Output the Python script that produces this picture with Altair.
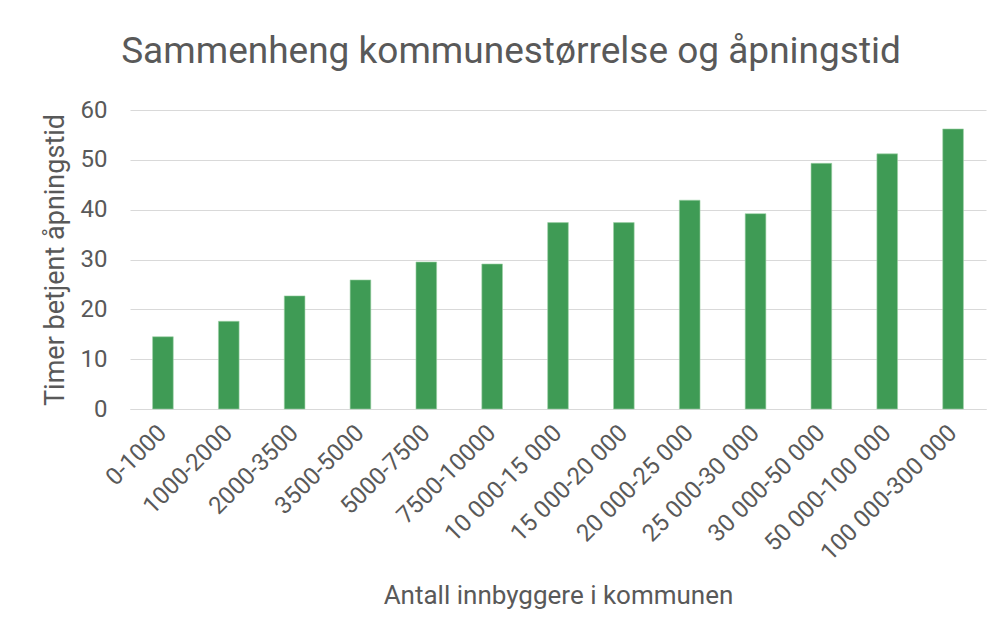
import altair as alt
import pandas as pd

categories = ["0-1000", "1000-2000", "2000-3500", "3500-5000", "5000-7500", "7500-10000",
              "10 000-15 000", "15 000-20 000", "20 000-25 000", "25 000-30 000",
              "30 000-50 000", "50 000-100 000", "100 000-300 000"]
values = [14.5, 17.6, 22.7, 25.9, 29.5, 29.1, 37.4, 37.4, 41.9, 39.2, 49.3, 51.2, 56.2]

df = pd.DataFrame({"kategori": categories, "timer": values})

TXT = "#595959"
FONT = "Roboto"

chart = alt.Chart(df).mark_bar(color="#3F9B55", stroke="#9fd1a8", strokeWidth=0.6).encode(
    x=alt.X("kategori:N", sort=categories,
            scale=alt.Scale(paddingInner=0.686, paddingOuter=0.343),
            axis=alt.Axis(title="Antall innbyggere i kommunen", labelAngle=-45,
                          labelAlign="right", labelBaseline="middle",
                          labelPadding=20, ticks=False, domain=True,
                          domainColor="#d9d9d9", domainWidth=1,
                          labelFontSize=24, labelColor=TXT, labelFont=FONT,
                          labelLimit=300,
                          titleFontSize=26, titleColor=TXT, titleFont=FONT,
                          titleFontWeight="normal", titleY=194,
                          titleBaseline="alphabetic")),
    y=alt.Y("timer:Q", scale=alt.Scale(domain=[0, 60]),
            axis=alt.Axis(title="Timer betjent åpningstid", values=[0, 10, 20, 30, 40, 50, 60],
                          ticks=False, domain=False, grid=True, gridColor="#d9d9d9",
                          gridWidth=1, labelPadding=23, labelFontSize=24,
                          labelColor=TXT, labelFont=FONT, titleFontSize=27,
                          titleColor=TXT, titleFont=FONT, titleFontWeight="normal",
                          titleX=-67, titleY=149.5, titleBaseline="alphabetic")),
).properties(
    width=856,
    height=299,
    title=alt.TitleParams("Sammenheng kommunestørrelse og åpningstid", fontSize=37,
                          font=FONT, color=TXT, fontWeight="normal", anchor="middle",
                          dx=-47, offset=27),
    padding={"left": 122, "top": 102, "right": 10, "bottom": 212},
    autosize=alt.AutoSizeParams(type="none"),
).configure_view(stroke=None)

chart.save("out.html", embed_options={"renderer": "svg", "actions": False})
